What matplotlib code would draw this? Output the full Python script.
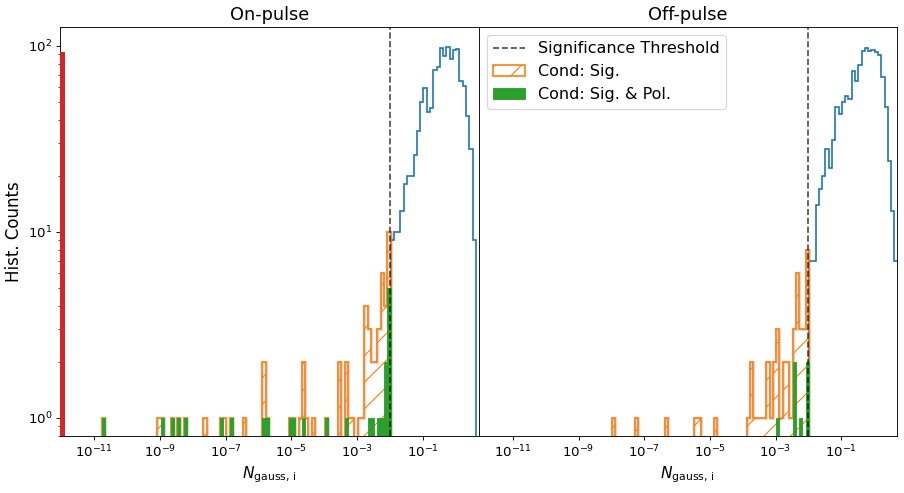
import numpy as np
import matplotlib
matplotlib.use("Agg")
import matplotlib.pyplot as plt

# ---- data ----
# common log10 bin grid, 0.1 dex wide
BIN_DEC = 0.1
EDGE0 = -12.08
N_BINS = 128

# N_gauss above threshold (blue), bins starting at 10^-1.98
blue_start = -1.98
blue_on = [9, 10, 10, 13, 18, 20, 20, 26, 35, 50, 59, 44, 46, 74, 77, 97, 88, 99,
           85, 95, 96, 65, 61, 42, 28, 9, 0]
blue_off = [7, 7, 14, 17, 20, 28, 22, 31, 47, 43, 50, 54, 52, 73, 65, 79, 94, 97,
            94, 95, 92, 89, 68, 47, 24, 13, 7]

# significant (orange): left bin edge in log10 + counts
sig_on_logx = [-10.78, -9.08, -8.98, -8.68, -8.48, -8.28, -7.68, -7.18, -7.08, -6.88,
               -6.48, -5.88, -5.78, -5.08, -4.98, -4.78, -4.68, -4.58, -4.38, -3.98,
               -3.58, -3.38, -3.28, -3.18, -2.98, -2.88, -2.78, -2.68, -2.58, -2.48,
               -2.38, -2.28, -2.18, -2.08]
sig_on_cnt = [1, 1, 1, 1, 1, 1, 1, 1, 1, 1,
              1, 2, 1, 1, 1, 1, 2, 1, 1, 1,
              2, 2, 1, 1, 1, 1, 4, 3, 2, 2,
              3, 6, 4, 10]
sig_off_logx = [-7.98, -7.28, -6.38, -5.48, -5.38, -4.88, -3.88, -3.78, -3.68, -3.58,
                -3.48, -3.38, -3.28, -3.18, -3.08, -2.98, -2.88, -2.78, -2.68, -2.58,
                -2.48, -2.38, -2.28, -2.18, -2.08]
sig_off_cnt = [1, 1, 1, 1, 1, 1, 1, 2, 1, 1,
               1, 1, 2, 1, 2, 3, 1, 2, 2, 1,
               3, 6, 3, 3, 8]

# significant & polarised (green)
pol_on_logx = [-10.78, -8.98, -8.68, -8.48, -8.28, -7.18, -6.88, -5.88, -5.78, -5.08,
               -4.98, -4.68, -3.98, -3.38, -2.68, -2.58, -2.38, -2.28, -2.18, -2.08]
pol_on_cnt = [1, 1, 1, 1, 1, 1, 1, 1, 1, 1,
              1, 1, 1, 1, 1, 1, 1, 1, 2, 5]
pol_off_logx = [-2.98, -2.48, -2.28, -2.08]
pol_off_cnt = [1, 2, 1, 2]

# entries with N_gauss == 0 (on-pulse only), drawn at the left edge
zero_on = 92

threshold = 1e-2

plt.rcParams['font.family'] = ['DejaVu Sans']

edges = 10 ** (EDGE0 + BIN_DEC * np.arange(N_BINS + 1))
blue_edges = 10 ** (blue_start + BIN_DEC * np.arange(len(blue_on) + 1))


def centres(logx):
    return 10 ** (np.array(logx) + BIN_DEC / 2)


fig, (ax1, ax2) = plt.subplots(1, 2, figsize=(11.3, 6.1625), dpi=80, sharey=True)
fig.subplots_adjust(left=0.0664, right=0.9923, top=0.9452, bottom=0.1156, wspace=0)

panels = [
    (ax1, "On-pulse", blue_on, sig_on_logx, sig_on_cnt, pol_on_logx, pol_on_cnt),
    (ax2, "Off-pulse", blue_off, sig_off_logx, sig_off_cnt, pol_off_logx, pol_off_cnt),
]

for ax, title, blue, sx, sc, px, pc in panels:
    ax.set_xscale('log')
    ax.set_yscale('log')
    ax.hist(np.sqrt(blue_edges[:-1] * blue_edges[1:]), bins=blue_edges, weights=blue,
            histtype='step', color='#1f77b4', lw=1.5)
    # faint grey halo under the orange outline
    ax.hist(centres(sx), bins=edges, weights=sc, histtype='step', color='0.86', lw=3,
            zorder=1.5)
    ax.hist(centres(sx), bins=edges, weights=sc, histtype='step', color='#ff7f0e',
            lw=1.5, hatch='/', label='Cond: Sig.', zorder=2)
    left = 10 ** np.array(px)
    ax.bar(left, pc, width=left * (10 ** BIN_DEC - 1), align='edge', color='#2ca02c',
           edgecolor='#2ca02c', lw=0.8, label='Cond: Sig. & Pol.', zorder=3)
    ax.axvline(threshold, color='k', ls='--', lw=1.5, alpha=0.7,
               label='Significance Threshold', zorder=4)
    ax.set_title(title, fontsize=16)
    ax.set_xlabel(r'$N_{\rm gauss,\,i}$', fontsize=14)
    ax.set_xlim(10 ** -12.045, 10 ** 0.70)
    ax.set_xticks([1e-11, 1e-9, 1e-7, 1e-5, 1e-3, 1e-1])
    ax.xaxis.set_minor_locator(matplotlib.ticker.NullLocator())
    ax.tick_params(labelsize=12)

ax1.bar(10 ** -12.035, zero_on, width=10 ** -11.9 - 10 ** -12.035, align='edge',
        color='#d62728', zorder=3)
ax1.set_ylim(0.8, 126)
ax1.set_ylabel('Hist. Counts', fontsize=15)
ax2.tick_params(axis='y', which='both', left=False, labelleft=False)

h, l = ax2.get_legend_handles_labels()
order = [l.index('Significance Threshold'), l.index('Cond: Sig.'), l.index('Cond: Sig. & Pol.')]
ax2.legend([h[i] for i in order], [l[i] for i in order], loc='upper left', fontsize=14.4)

fig.savefig('out.png', dpi=80)
